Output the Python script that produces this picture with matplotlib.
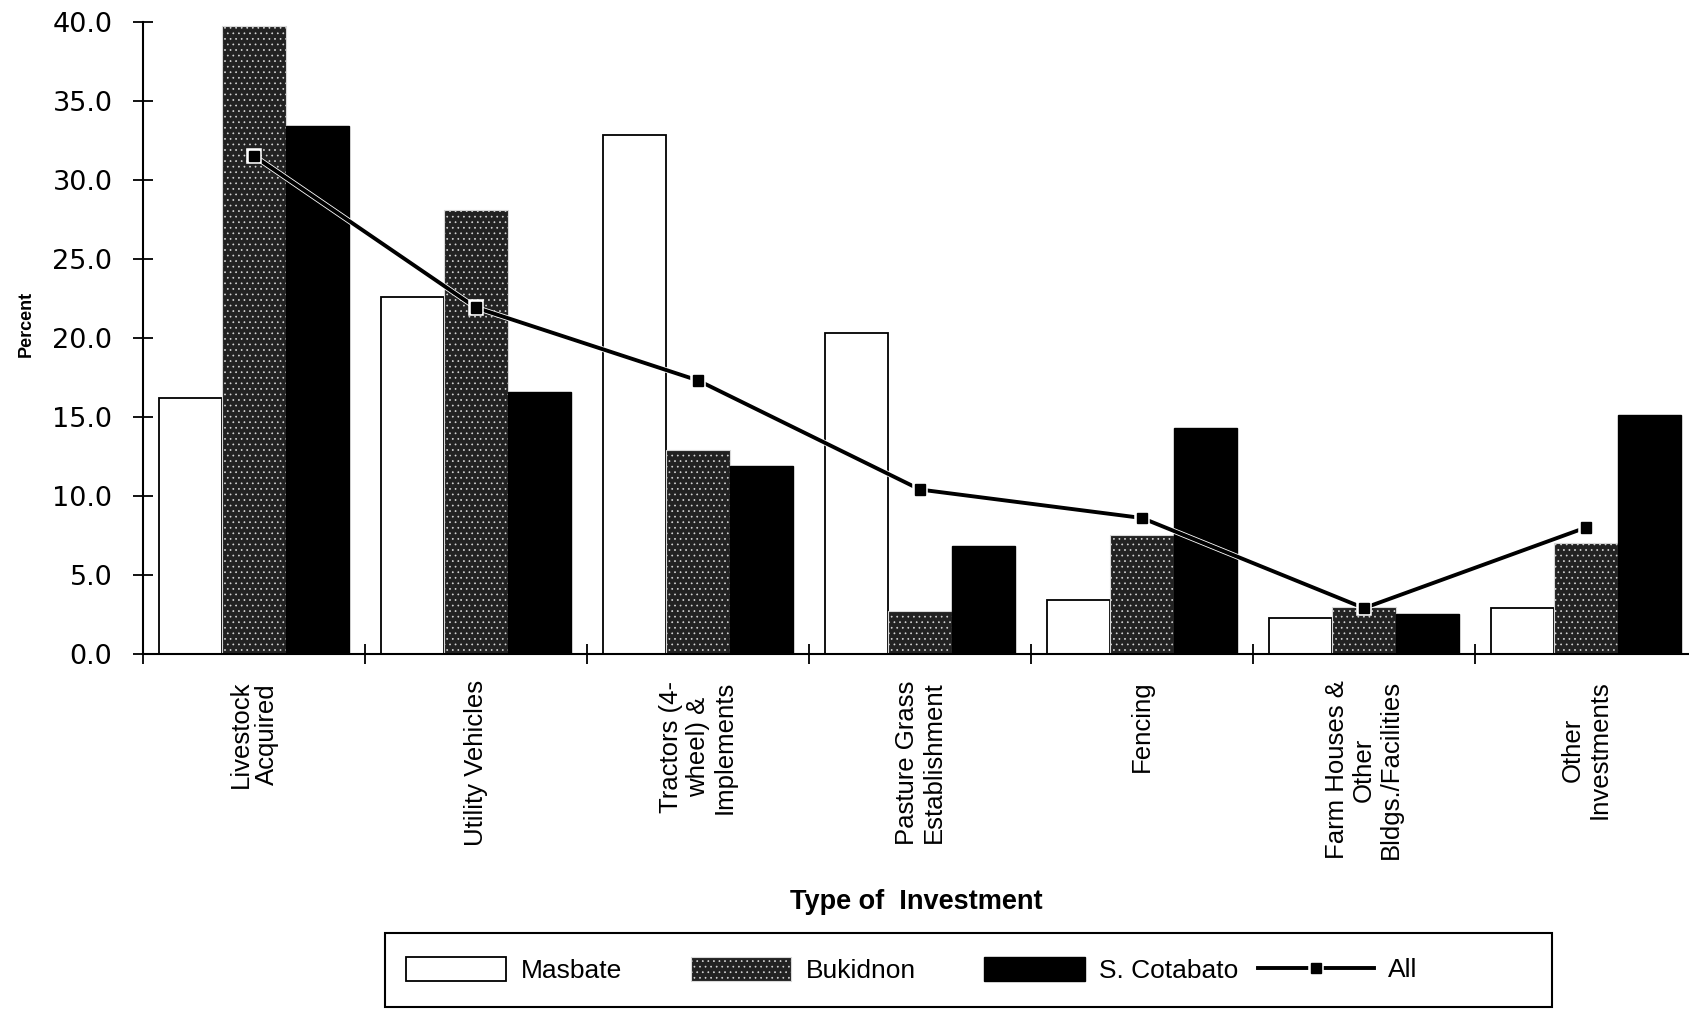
import matplotlib
matplotlib.use("Agg")
import matplotlib.pyplot as plt
import matplotlib.patheffects as pe
from matplotlib.patches import Rectangle
import numpy as np

categories = [
    "Livestock\nAcquired",
    "Utility Vehicles",
    "Tractors (4-\nwheel) &\nImplements",
    "Pasture Grass\nEstablishment",
    "Fencing",
    "Farm Houses &\nOther\nBldgs./Facilities",
    "Other\nInvestments",
]
masbate = [16.2, 22.6, 32.8, 20.3, 3.4, 2.3, 2.9]
bukidnon = [39.7, 28.1, 12.9, 2.7, 7.5, 3.0, 7.0]
s_cotabato = [33.4, 16.6, 11.9, 6.8, 14.3, 2.5, 15.1]
all_regions = [31.5, 21.9, 17.3, 10.4, 8.6, 2.9, 8.0]
yticks = [0, 5, 10, 15, 20, 25, 30, 35, 40]

plt.rcParams['hatch.linewidth'] = 0.5

fig = plt.figure(figsize=(16.89, 10.10), dpi=100)
ax = fig.add_axes([143 / 1689, 0.3525, 1554 / 1689, 0.6262])

x = np.arange(len(categories))
w = 0.286

b1 = ax.bar(x - w, masbate, w, facecolor="white", edgecolor="black", linewidth=1.3,
            label="Masbate", zorder=2)
b2 = ax.bar(x, bukidnon, w, facecolor="#222222", edgecolor="#d8d8d8", linewidth=0.8,
            hatch="...", label="Bukidnon", zorder=2)
b3 = ax.bar(x + w, s_cotabato, w, facecolor="black", edgecolor="black", linewidth=1.0,
            label="S. Cotabato", zorder=2)
ln, = ax.plot(x, all_regions, color="black", linewidth=2.8, marker="s", markersize=7.5,
              label="All", zorder=3,
              path_effects=[pe.Stroke(linewidth=4.0, foreground="white"), pe.Normal()])

ax.set_xlim(-0.5, 6.5)
ax.set_ylim(0, 40)
ax.set_yticks(yticks)
ax.set_yticklabels([f"{v:.1f}" for v in yticks], family="DejaVu Sans", fontsize=19.5)

ax.set_xticks(np.arange(-0.5, 7.0, 1.0))
ax.set_xticklabels([])
ax.set_xticks(x, minor=True)
ax.set_xticklabels(categories, minor=True, rotation=90, ha="center", va="top",
                   multialignment="center", family="Liberation Sans", fontsize=18.5,
                   linespacing=1.15)

for s in ["top", "right"]:
    ax.spines[s].set_visible(False)
ax.spines["left"].set_linewidth(1.5)
ax.spines["bottom"].set_linewidth(1.5)

ax.tick_params(axis="y", direction="inout", length=14, width=1.3, pad=15)
ax.tick_params(axis="x", which="major", direction="inout", length=14, width=1.3)
ax.tick_params(axis="x", which="minor", length=0, pad=19)

fig.text(26 / 1689, 1 - 324 / 1010, "Percent", rotation=90, ha="center", va="center",
         family="Liberation Sans", fontweight="bold", fontsize=13)
fig.text(916 / 1689, 1 - 902 / 1010, "Type of  Investment", ha="center", va="center",
         family="Liberation Sans", fontweight="bold", fontsize=19.5)

fig.patches.append(Rectangle((385 / 1689, 1 - 1007 / 1010), 1167 / 1689, 74 / 1010,
                             transform=fig.transFigure, fill=False, edgecolor="black",
                             linewidth=1.5))

leg_font = {"family": "Liberation Sans", "size": 19}
leg1 = fig.legend(handles=[b1, b2, b3], labels=["Masbate", "Bukidnon", "S. Cotabato"],
                  loc="center left", bbox_to_anchor=(393 / 1689, 1 - 970 / 1010),
                  bbox_transform=fig.transFigure, ncol=3, frameon=False, borderpad=0,
                  handlelength=3.8, handleheight=1.05, handletextpad=0.55, columnspacing=2.6,
                  prop=leg_font)
leg2 = fig.legend(handles=[ln], labels=["All"],
                  loc="center left", bbox_to_anchor=(1245 / 1689, 1 - 970 / 1010),
                  bbox_transform=fig.transFigure, frameon=False, borderpad=0,
                  handlelength=4.4, handletextpad=0.5, prop=leg_font)

fig.savefig("out.png", dpi=100)
